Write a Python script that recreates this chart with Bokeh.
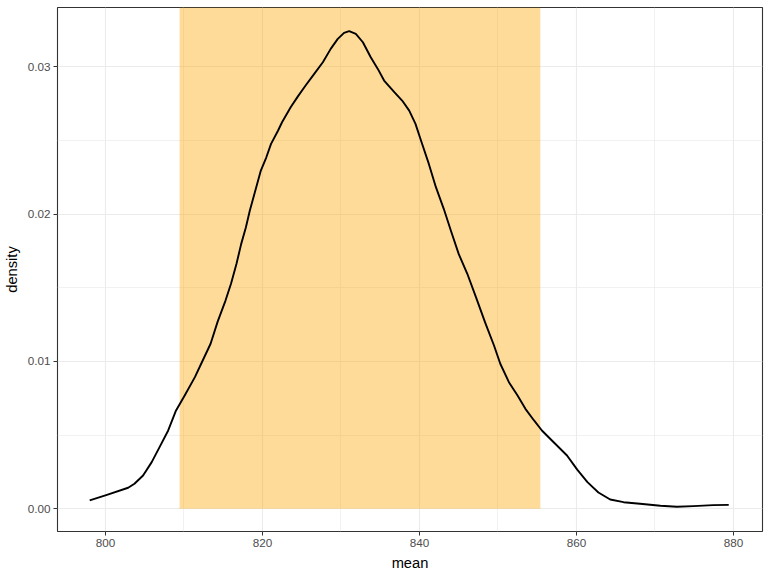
from bokeh.plotting import figure
from bokeh.models import Range1d, FixedTicker, NumeralTickFormatter, ColumnDataSource
from bokeh.embed import file_html
from bokeh.resources import INLINE

# density curve of "mean"
mean_x = [798.0, 800.1, 802.9, 803.7, 804.8, 805.9, 806.9, 808.0, 809.0, 810.1,
          811.4, 812.2, 813.4, 814.3, 815.3, 816.0, 816.7, 817.3, 817.9, 818.4,
          819.1, 819.8, 820.5, 821.1, 822.0, 822.5, 823.6, 824.5, 825.5, 826.6,
          827.7, 828.7, 829.6, 830.4, 831.05, 831.9, 832.8, 833.8, 834.7, 835.5,
          836.8, 837.8, 838.7, 839.5, 840.2, 841.2, 842.1, 843.1, 844.0, 845.0,
          846.1, 847.2, 848.4, 849.5, 850.3, 851.4, 852.5, 853.5, 854.6, 855.6,
          857.1, 858.8, 860.1, 861.4, 862.8, 864.3, 866.0, 868.1, 870.7, 872.8,
          874.9, 877.4, 879.4]
density = [0.00056, 0.00092, 0.00142, 0.00169, 0.00225, 0.00316, 0.00418, 0.00531, 0.00667, 0.00768,
           0.00893, 0.00984, 0.01120, 0.01270, 0.01413, 0.01527, 0.01663, 0.01798, 0.01911, 0.02024,
           0.02160, 0.02296, 0.02386, 0.02477, 0.02568, 0.02624, 0.02726, 0.02798, 0.02873, 0.02952,
           0.03031, 0.03122, 0.03190, 0.03231, 0.03242, 0.03224, 0.03167, 0.03065, 0.02986, 0.02907,
           0.02828, 0.02771, 0.02703, 0.02613, 0.02500, 0.02341, 0.02183, 0.02036, 0.01889, 0.01730,
           0.01595, 0.01436, 0.01260, 0.01108, 0.00984, 0.00859, 0.00768, 0.00678, 0.00599, 0.00531,
           0.00451, 0.00361, 0.00265, 0.00180, 0.00110, 0.00062, 0.00044, 0.00033, 0.00020, 0.00013,
           0.00017, 0.00024, 0.00026]

# shaded interval
ci_low = 809.45
ci_high = 855.4

x_ticks = [800, 820, 840, 860, 880]
x_minor = [790, 810, 830, 850, 870, 890]
y_ticks = [0.00, 0.01, 0.02, 0.03]
y_minor = [0.005, 0.015, 0.025]

x_lo, x_hi = 793.9, 883.7
y_lo, y_hi = -0.00155, 0.03403

p = figure(width=768, height=576, x_range=Range1d(x_lo, x_hi), y_range=Range1d(y_lo, y_hi),
           output_backend="svg", toolbar_location=None,
           min_border_left=56, min_border_right=6, min_border_top=7, min_border_bottom=45,
           background_fill_color="white", border_fill_color="white")

p.outline_line_color = "#333333"
p.outline_line_width = 1.1

p.xaxis.ticker = FixedTicker(ticks=x_ticks, minor_ticks=x_minor)
p.yaxis.ticker = FixedTicker(ticks=y_ticks, minor_ticks=y_minor)
p.yaxis.formatter = NumeralTickFormatter(format="0.00")

for ax in (p.xaxis, p.yaxis):
    ax.axis_line_color = None
    ax.major_tick_line_color = "#333333"
    ax.major_tick_out = 4
    ax.major_tick_in = 0
    ax.minor_tick_line_color = None
    ax.major_label_text_font = "Liberation Sans"
    ax.major_label_text_font_size = "11.7px"
    ax.major_label_text_color = "#4D4D4D"
    ax.major_label_standoff = 3
    ax.axis_label_text_font = "Liberation Sans"
    ax.axis_label_text_font_size = "14.7px"
    ax.axis_label_text_font_style = "normal"
    ax.axis_label_text_color = "black"
    ax.axis_label_standoff = 5

p.xaxis.axis_label = "mean"
p.yaxis.axis_label = "density"

for g in (p.xgrid, p.ygrid):
    g.grid_line_color = "#EBEBEB"
    g.grid_line_width = 1.1
    g.minor_grid_line_color = "#EBEBEB"
    g.minor_grid_line_width = 0.7

p.quad(left=[ci_low], right=[ci_high], bottom=[0], top=[y_hi],
       fill_color="orange", fill_alpha=0.4, line_color=None)

src = ColumnDataSource(dict(x=mean_x, y=density))
p.line("x", "y", source=src, line_color="black", line_width=1.9, line_join="round")

open("out.html", "w").write(file_html(p, INLINE))
